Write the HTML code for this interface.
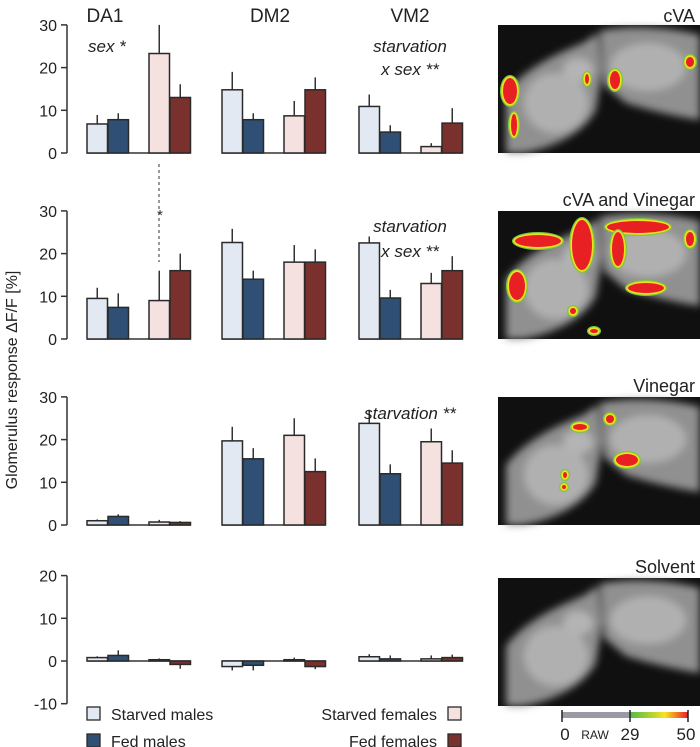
<!DOCTYPE html>
<html><head><meta charset="utf-8"><style>
body{margin:0;background:#fff;}
svg{display:block;font-family:"Liberation Sans",sans-serif;}
</style></head><body>
<svg id="fig" width="700" height="747" viewBox="0 0 700 747" xmlns="http://www.w3.org/2000/svg">
<defs>
<filter id="bl" x="-20%" y="-20%" width="140%" height="140%"><feGaussianBlur stdDeviation="4"/></filter>
<linearGradient id="cb" x1="0" x2="1"><stop offset="0" stop-color="#4cbb4a"/><stop offset="0.45" stop-color="#c8d830"/><stop offset="0.6" stop-color="#f5e61e"/><stop offset="0.8" stop-color="#f08020"/><stop offset="1" stop-color="#e8202a"/></linearGradient>
<g id="brain">
<rect x="0" y="0" width="202" height="128" fill="#101010"/>
<g filter="url(#bl)">
<path d="M8,68 C25,45 55,30 85,18 L100,8 L104,45 L98,85 C88,105 60,122 25,128 L8,128 Z" fill="#909090"/>
<path d="M102,6 C130,0 170,2 202,10 L202,95 C180,92 150,85 128,78 L106,60 Z" fill="#909090"/>
<ellipse cx="58" cy="78" rx="32" ry="30" fill="#b0b0b0"/>
<ellipse cx="150" cy="42" rx="38" ry="24" fill="#b0b0b0"/>
<ellipse cx="80" cy="45" rx="15" ry="12" fill="#b4b4b4"/>
</g>
</g>
</defs>
<g id="charts"></g>
<g id="imgs"></g>
</svg>
<script>
const NS="http://www.w3.org/2000/svg";
const glomeruli=["DA1","DM2","VM2"];
const groups=["Starved males","Fed males","Starved females","Fed females"];
const colors=["#e2e9f3","#2f5074","#f5e1df","#7a302c"];
const meansCVA=[[6.8,7.8,23.3,13],[14.8,7.8,8.7,14.8],[10.9,4.9,1.5,7]];
const errsCVA=[[2.1,1.5,6.7,3.1],[4.2,1.5,3.5,2.9],[2.8,1.6,0.8,3.5]];
const meansMix=[[9.5,7.4,9,16],[22.6,14,18,18],[22.5,9.6,13,16]];
const errsMix=[[2.5,3.3,7,4],[3.2,2,4,3],[1.5,1.9,2.5,3.4]];
const meansVin=[[1,2,0.7,0.6],[19.7,15.5,21,12.5],[23.8,12,19.5,14.5]];
const errsVin=[[0.3,0.5,0.5,0.3],[3.3,2.5,4,3.1],[3.2,2.2,3.1,3]];
const meansSol=[[0.8,1.3,0.3,-0.8],[-1.3,-1,0.3,-1.3],[1,0.5,0.5,0.8]];
const errsSol=[[0.3,1.2,0.3,1],[0.9,1.2,0.5,0.6],[0.6,0.8,0.8,0.7]];
const ticksA=[0,10,20,30];
const ticksB=[-10,0,10,20];
const rows=[
 {m:meansCVA,e:errsCVA,zero:153,ticks:ticksA},
 {m:meansMix,e:errsMix,zero:339,ticks:ticksA},
 {m:meansVin,e:errsVin,zero:525,ticks:ticksA},
 {m:meansSol,e:errsSol,zero:661,ticks:ticksB}];
const PX=4.27;
const gx=[87,222,359];
const barOff=[0,21,62,83];
const BW=20.5;
const C=document.getElementById('charts');
function mk(t,a,p){const el=document.createElementNS(NS,t);for(const k in a)el.setAttribute(k,a[k]);(p||C).appendChild(el);return el;}
function txt(x,y,s,a,p){const t=mk('text',Object.assign({x:x,y:y},a),p);t.textContent=s;return t;}
rows.forEach((r,ri)=>{
 const y=v=>r.zero-v*PX;
 const g=mk('g',{});
 
 
 const tmin=Math.min(...r.ticks),tmax=Math.max(...r.ticks);
 const ax=mk('line',{x1:67,x2:67,y1:y(tmax),y2:y(tmin),stroke:'#333','stroke-width':1.5},g);
 
 
 r.ticks.forEach(t=>{
  mk('line',{x1:61,x2:67,y1:y(t),y2:y(t),stroke:'#333','stroke-width':1.5},g);
  const tl=txt(57,y(t)+6,String(t),{'text-anchor':'end','font-size':16,fill:'#222'},g);
  
  
 });
 r.m.forEach((gm,gi)=>{
  mk('line',{x1:gx[gi],x2:gx[gi]+barOff[3]+BW,y1:r.zero,y2:r.zero,stroke:'#333','stroke-width':1.5},g);
  gm.forEach((v,bi)=>{
   const x=gx[gi]+barOff[bi];
   const e=r.e[gi][bi];const dir=v>=0?1:-1;
   const cx=x+BW/2;
   mk('line',{x1:cx,x2:cx,y1:y(v),y2:y(v+dir*e),stroke:'#333','stroke-width':1.5},g);
   const b=mk('rect',{x:x,y:Math.min(y(v),r.zero),width:BW,height:Math.abs(v)*PX,fill:colors[bi],stroke:'#2a2a2a','stroke-width':1.5},g);
   
   
  });
 });
});
[[105,"DA1"],[270,"DM2"],[410,"VM2"]].forEach(([x,s])=>{const t=txt(x,22,s,{'text-anchor':'middle','font-size':19,fill:'#222'});
 
 });
const an=[[88,52,"sex *",'start'],[410,52,"starvation",'middle'],[410,75,"x sex **",'middle'],[410,232,"starvation",'middle'],[410,257,"x sex **",'middle'],[410,419,"starvation **",'middle']];
an.forEach(([x,y,s,a])=>{const t=txt(x,y,s,{'text-anchor':a,'font-size':17,'font-style':'italic',fill:'#222'});
 
 });
mk('line',{x1:159,x2:159,y1:164,y2:262,stroke:'#555','stroke-width':1.2,'stroke-dasharray':'3,3'});
txt(160,220,"*",{'text-anchor':'middle','font-size':15,fill:'#333'});
const yt=txt(0,0,"Glomerulus response  ΔF/F [%]",{'text-anchor':'middle','font-size':16,fill:'#222',transform:'translate(17,380) rotate(-90)'});


[[87,707,0,111,'start'],[87,734,1,111,'start'],[448,707,2,437,'end'],[448,734,3,437,'end']].forEach(([sx,sy,i,tx,an2])=>{
 const g=mk('g',{});
 
 
 mk('rect',{x:sx,y:sy,width:13,height:13,fill:colors[i],stroke:'#2a2a2a','stroke-width':1.3},g);
 txt(tx,sy+13,groups[i],{'text-anchor':an2,'font-size':16,fill:'#222'},g);
});
const I=document.getElementById('imgs');
const imgs=[{y:25,l:"cVA",ly:22,spots:[[12,66,8,14],[16,100,4,12],[89,54,3,6],[117,55,6,10],[192,37,5,6]]},
 {y:211,l:"cVA and Vinegar",ly:206,spots:[[40,30,24,7],[84,34,11,26],[140,16,32,7],[120,38,7,18],[148,77,19,6],[19,75,9,15],[192,28,5,8],[75,100,4,4],[96,120,5,3]]},
 {y:397,l:"Vinegar",ly:392,spots:[[82,30,8,4],[112,22,5,5],[129,63,12,7],[67,78,3,4],[66,90,3,3]]},
 {y:578,l:"Solvent",ly:573,spots:[]}];
imgs.forEach((im,ii)=>{
 const g=mk('g',{transform:'translate(498,'+im.y+')'},I);
 
 
 mk('use',{href:'#brain'},g);
 im.spots.forEach(s=>{
  mk('ellipse',{cx:s[0],cy:s[1],rx:s[2]+2,ry:s[3]+2,fill:'#7cc840'},g);
  mk('ellipse',{cx:s[0],cy:s[1],rx:s[2]+0.7,ry:s[3]+0.7,fill:'#f0e020'},g);
  mk('ellipse',{cx:s[0],cy:s[1],rx:Math.max(s[2]-1,1),ry:Math.max(s[3]-1,1),fill:'#e82024'},g);
 });
 const t=txt(695,im.ly,im.l,{'text-anchor':'end','font-size':18,fill:'#222'},I);
 
 
});
const cb=mk('g',{},I);


mk('rect',{x:562,y:712,width:68,height:6,fill:'#9a9aa4'},cb);
mk('rect',{x:630,y:712,width:58,height:6,fill:'url(#cb)'},cb);
[562,630,688].forEach(x=>mk('line',{x1:x,x2:x,y1:710,y2:722,stroke:'#222','stroke-width':1.5},cb));
txt(565,740,"0",{'text-anchor':'middle','font-size':17,fill:'#222'},cb);
txt(595,739,"RAW",{'text-anchor':'middle','font-size':12,fill:'#222'},cb);
txt(630,740,"29",{'text-anchor':'middle','font-size':17,fill:'#222'},cb);
txt(686,740,"50",{'text-anchor':'middle','font-size':17,fill:'#222'},cb);
</script>
</body></html>
